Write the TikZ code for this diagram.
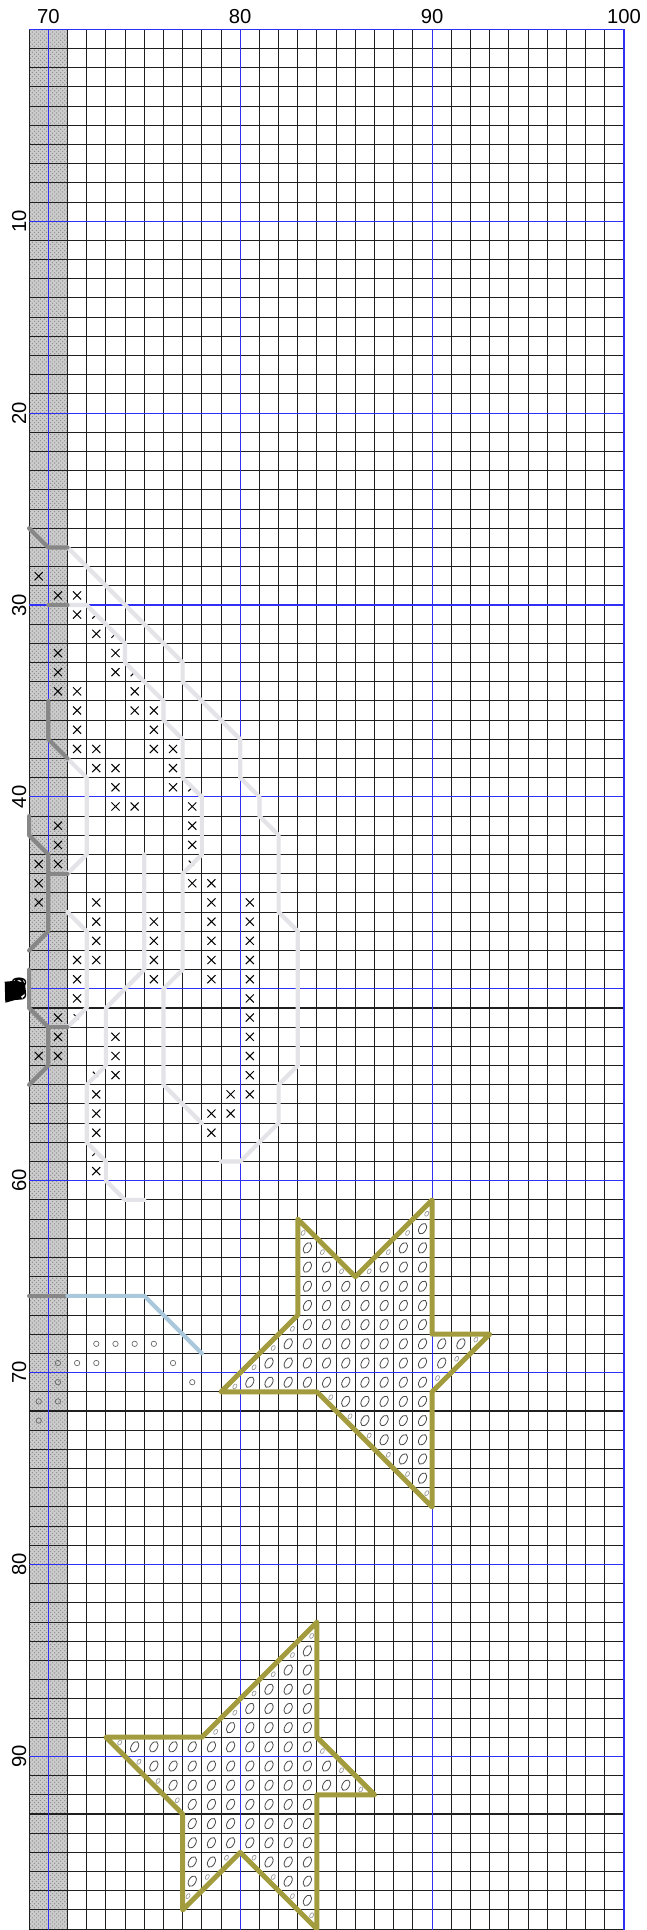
\documentclass[tikz,border=0pt]{standalone}
\usepackage{fontspec}
\setmainfont{Liberation Sans}
\usetikzlibrary{patterns}

\definecolor{gridblue}{HTML}{2F2FF5}
\definecolor{paleline}{HTML}{E3E3E8}
\definecolor{darkline}{HTML}{878787}
\definecolor{skyline}{HTML}{A9C8DC}
\definecolor{starline}{HTML}{A39C3F}

\tikzset{
  gridline/.style={black!88, line width=0.75pt},
  bluegrid/.style={gridblue, line width=0.8pt},
  axislabel/.style={font=\fontsize{15}{18}\selectfont, inner sep=0pt},
  backstitch/.style={line width=3.1pt, line cap=round, line join=round},
  starstitch/.style={starline, line width=3.7pt, line cap=round, line join=round},
  crossmark/.style={black, line width=0.75pt},
  fulloval/.style={black!70, line width=0.6pt},
  quarteroval/.style={black!40, line width=0.5pt},
  knotmark/.style={black!60, line width=0.5pt},
}

% one cell = 1 unit, cell (c,r) has its top left corner at (c,r)
\newcommand{\crossst}[2]{\draw[crossmark] (#1+0.29,#2+0.29) -- (#1+0.71,#2+0.71) (#1+0.71,#2+0.29) -- (#1+0.29,#2+0.71);}
\newcommand{\slashst}[2]{\draw[crossmark] (#1+0.29,#2+0.71) -- (#1+0.55,#2+0.45);}
\newcommand{\backslashst}[2]{\draw[crossmark] (#1+0.32,#2+0.32) -- (#1+0.58,#2+0.58);}
\newcommand{\ovalst}[2]{\draw[fulloval, rotate around={-30:(#1+0.5,#2+0.5)}] (#1+0.5,#2+0.5) ellipse (0.18 and 0.3);}
\newcommand{\smallovalst}[4]{\draw[quarteroval, rotate around={-30:(#1+0.5+0.22*#3,#2+0.5+0.22*#4)}] (#1+0.5+0.22*#3,#2+0.5+0.22*#4) ellipse (0.09 and 0.14);}
\newcommand{\knotst}[2]{\draw[knotmark] (#1+0.5,#2+0.5) circle (0.14);}

\begin{document}
\begin{tikzpicture}[x=0.5cm, y=-0.5cm]
    % Page
    \useasboundingbox (67.483,-1.527) rectangle (101.147,99.046);
    \fill[white] (67.483,-1.527) rectangle (101.147,99.046);

    % Shaded strip
    \fill[black!20] (69,0) rectangle (71,99.046);
    \fill[pattern=crosshatch dots, pattern color=black!45] (69,0) rectangle (71,99.046);

    % Grid
    \foreach \x in {69,...,100} \draw[gridline] (\x,0) -- (\x,99.046);
    \foreach \y in {0,...,99} \draw[gridline] (69,\y) -- (100,\y);
    \foreach \x in {70,80,90,100} \draw[bluegrid] (\x,0) -- (\x,99.046);
    \foreach \y in {0,10,...,90} \draw[bluegrid] (69,\y) -- (100,\y);

    % Numbers
    \foreach \x in {70,80,90,100}
        \node[axislabel, anchor=base] (col\x) at (\x,-0.28) {\x};
    \foreach \y in {10,20,...,90}
        \node[axislabel, anchor=base, rotate=90] (row\y) at (68.84,\y) {\y};

    % Centre marker
    \fill[black] (67.728,49.63) -- (68.353,49.578) -- (68.786,49.713) -- (68.838,50.203)
        -- (68.562,50.412) -- (68.697,50.548) -- (68.265,50.584) -- (67.759,50.725) -- cycle;
    \draw[black, line width=1.5pt] (68.473,49.68) circle (0.2);

    % Cross stitches
    \foreach \r/\cols in {28/{69}, 29/{70,71}, 30/{71}, 31/{72}, 32/{70,73}, 33/{70,73},
        34/{70,71,74}, 35/{71,74,75}, 36/{71,75}, 37/{71,72,75,76}, 38/{72,73,76},
        39/{73,76}, 40/{73,74,77}, 41/{70,77}, 42/{70,77}, 43/{69,70}, 44/{69,77,78},
        45/{69,72,78,80}, 46/{72,75,78,80}, 47/{72,75,78,80}, 48/{71,72,75,78,80},
        49/{71,75,78,80}, 50/{71,80}, 51/{70,80}, 52/{70,73,80}, 53/{69,70,73,80},
        54/{73,80}, 55/{72,79,80}, 56/{72,78,79}, 57/{72,78}, 59/{72}}
        {\foreach \c in \cols {\crossst{\c}{\r}}}
    \foreach \c/\r in {72/30, 73/31, 74/33, 77/39, 72/58} {\slashst{\c}{\r}}
    \foreach \c/\r in {77/43, 71/51, 72/54} {\backslashst{\c}{\r}}

    % Knots
    \foreach \c/\r in {72/68, 73/68, 74/68, 75/68, 70/69, 71/69, 72/69, 76/69,
        70/70, 77/70, 69/71, 70/71, 69/72} {\knotst{\c}{\r}}

    % Upper star, filling
    \foreach \r/\cols in {62/{89}, 63/{83,88,89}, 64/{83,84,87,88,89}, 65/{83,...,89},
        66/{83,...,89}, 67/{83,...,89}, 68/{82,...,91}, 69/{81,...,90}, 70/{80,...,89},
        71/{85,...,89}, 72/{86,...,89}, 73/{87,88,89}, 74/{88,89}, 75/{89}}
        {\foreach \c in \cols {\ovalst{\c}{\r}}}
    \foreach \c/\r/\dx/\dy in {89/61/1/1, 88/62/1/1, 87/63/1/1, 86/64/1/1,
        83/62/-1/1, 84/63/-1/1, 85/64/-1/1,
        82/67/1/1, 81/68/1/1, 80/69/1/1, 79/70/1/1,
        92/68/-1/-1, 91/69/-1/-1, 90/70/-1/-1,
        84/71/1/-1, 85/72/1/-1, 86/73/1/-1, 87/74/1/-1, 88/75/1/-1, 89/76/1/-1}
        {\smallovalst{\c}{\r}{\dx}{\dy}}

    % Lower star, filling
    \foreach \r/\cols in {84/{83}, 85/{82,83}, 86/{81,82,83}, 87/{80,...,83}, 88/{79,...,83},
        89/{74,...,83}, 90/{75,...,84}, 91/{76,...,85}, 92/{77,...,83}, 93/{77,...,83},
        94/{77,...,83}, 95/{77,78,81,82,83}, 96/{77,82,83}, 97/{83}}
        {\foreach \c in \cols {\ovalst{\c}{\r}}}
    \foreach \c/\r/\dx/\dy in {83/83/1/1, 82/84/1/1, 81/85/1/1, 80/86/1/1, 79/87/1/1, 78/88/1/1,
        73/89/1/-1, 74/90/1/-1, 75/91/1/-1, 76/92/1/-1,
        84/89/-1/1, 85/90/-1/1, 86/91/-1/1,
        77/97/-1/-1, 78/96/-1/-1, 79/95/-1/-1,
        80/95/1/-1, 81/96/1/-1, 82/97/1/-1, 83/98/1/-1}
        {\smallovalst{\c}{\r}{\dx}{\dy}}

    % Pale outlines
    \draw[backstitch, paleline] (71,27) -- (77,33) -- (77,34) -- (80,37) -- (80,39) -- (81,40)
        -- (81,41) -- (82,42) -- (82,46) -- (83,47) -- (83,54) -- (82,55) -- (82,57)
        -- (80,59) -- (79,59);
    \draw[backstitch, paleline] (71,30) -- (72,30) -- (74,32) -- (74,33) -- (76,35) -- (76,36)
        -- (77,37) -- (77,39) -- (78,40) -- (78,43) -- (77,44) -- (77,49) -- (76,50)
        -- (76,55) -- (78,57);
    \draw[backstitch, paleline] (71,38) -- (72,39) -- (72,43) -- (71,44);
    \draw[backstitch, paleline] (71,46) -- (72,47) -- (72,51) -- (71,52);
    \draw[backstitch, paleline] (75,43) -- (75,49) -- (73,51) -- (73,54) -- (72,55) -- (72,58)
        -- (73,59) -- (73,60) -- (74,61) -- (75,61);

    % Dark outlines
    \draw[backstitch, darkline] (69,26) -- (70,27) -- (71,27);
    \draw[backstitch, darkline] (70,30) -- (71,30);
    \draw[backstitch, darkline] (70,35) -- (70,37) -- (71,38);
    \draw[backstitch, darkline] (69,41) -- (69,42) -- (70,43) -- (70,47) -- (69,48);
    \draw[backstitch, darkline] (70,44) -- (71,44);
    \draw[backstitch, darkline] (69,49) -- (69,51) -- (70,52) -- (70,54) -- (69,55);
    \draw[backstitch, darkline] (70,52) -- (71,52);
    \draw[backstitch, darkline] (69,66) -- (71,66);

    % Blue outline
    \draw[backstitch, skyline] (71,66) -- (75,66) -- (78,69);

    % Star outlines
    \draw[starstitch] (90,61) -- (90,68) -- (93,68) -- (90,71) -- (90,77) -- (84,71)
        -- (79,71) -- (83,67) -- (83,62) -- (86,65) -- cycle;
    \draw[starstitch] (84,83) -- (84,89) -- (87,92) -- (84,92) -- (84,99) -- (80,95)
        -- (77,98) -- (77,93) -- (73,89) -- (78,89) -- cycle;
\end{tikzpicture}
\end{document}
